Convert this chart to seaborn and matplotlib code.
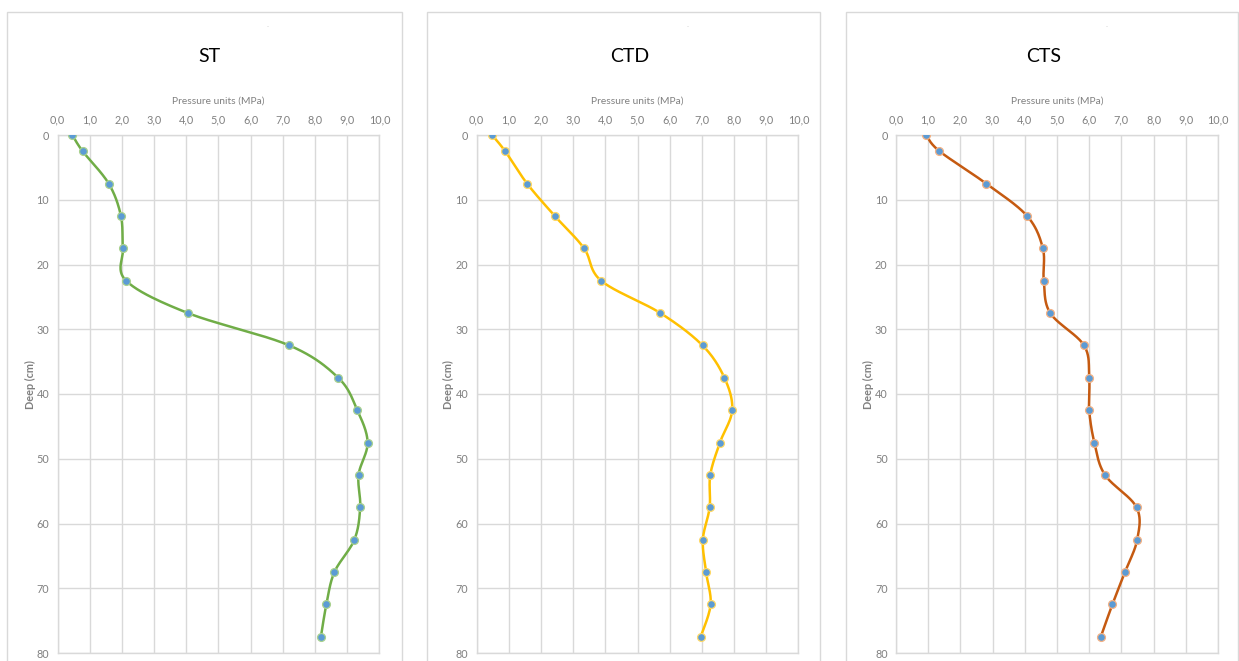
import numpy as np
import pandas as pd
import seaborn as sns
import matplotlib
matplotlib.use("Agg")
import matplotlib.pyplot as plt
from matplotlib.patches import Rectangle
from matplotlib.ticker import FuncFormatter

# ---- data ----
depth = [0, 2.5, 7.5, 12.5, 17.5, 22.5, 27.5, 32.5, 37.5, 42.5, 47.5,
         52.5, 57.5, 62.5, 67.5, 72.5, 77.5]
st = [0.46, 0.78, 1.59, 1.97, 2.03, 2.13, 4.05, 7.20, 8.72, 9.31, 9.63,
      9.35, 9.40, 9.22, 8.60, 8.35, 8.18]
ctd = [0.48, 0.89, 1.57, 2.43, 3.34, 3.87, 5.71, 7.02, 7.70, 7.94, 7.56,
       7.26, 7.24, 7.03, 7.13, 7.27, 6.96]
cts = [0.93, 1.35, 2.80, 4.07, 4.56, 4.59, 4.79, 5.84, 6.00, 6.00, 6.16,
       6.49, 7.47, 7.49, 7.11, 6.72, 6.36]
titles = ["ST", "CTD", "CTS"]
series = [st, ctd, cts]
line_colors = ["#70AD47", "#FFC000", "#C55A11"]
edge_colors = ["#A9D18E", "#FFD966", "#F4B183"]
x_ticks = list(range(0, 11))
y_ticks = list(range(0, 81, 10))
x_label = "Pressure units (MPa)"
y_label = "Deep (cm)"

W, H = 1239, 661


def smooth(xs, ys, steps=24):
    """Excel-style smoothed line: cubic Bezier segments through the points."""
    P = np.column_stack([xs, ys]).astype(float)
    n = len(P)
    out = [P[0]]
    t = np.linspace(0, 1, steps)[1:, None]
    for i in range(n - 1):
        p0 = P[i - 1] if i > 0 else P[i]
        p1, p2 = P[i], P[i + 1]
        p3 = P[i + 2] if i + 2 < n else P[i + 1]
        c1 = p1 + (p2 - p0) / 6.0
        c2 = p2 - (p3 - p1) / 6.0
        seg = ((1 - t) ** 3) * p1 + 3 * ((1 - t) ** 2) * t * c1 \
            + 3 * (1 - t) * (t ** 2) * c2 + (t ** 3) * p2
        out.extend(seg)
    return np.array(out)


sns.set_theme(style="white")
plt.rcParams["font.family"] = ["Lato", "DejaVu Sans"]

fig = plt.figure(figsize=(W / 100, H / 100), dpi=100)
fig.patch.set_facecolor("white")

frames = [(7, 402), (427, 820), (846, 1238)]
ax_left = [57.5, 476.5, 896]
ax_width = 322
ax_top, ax_bottom = 135, 653
title_x = [209, 630, 1044]
dash_x = [268, 688, 1107]

grey = "#808080"
grid_c = "#D9D9D9"

for i in range(3):
    fl, fr = frames[i]
    fig.add_artist(Rectangle((fl / W, -0.05), (fr - fl) / W, (H - 12) / H + 0.05,
                             transform=fig.transFigure, fill=False,
                             edgecolor=grid_c, lw=1.0))
    ax = fig.add_axes([ax_left[i] / W, 1 - ax_bottom / H,
                       ax_width / W, (ax_bottom - ax_top) / H])
    df = pd.DataFrame({"pressure": series[i], "depth": depth})
    curve = smooth(df["pressure"].values, df["depth"].values)
    sns.lineplot(x=curve[:, 0], y=curve[:, 1], sort=False, estimator=None,
                 color=line_colors[i], lw=1.8, ax=ax, zorder=2)
    sns.scatterplot(data=df, x="pressure", y="depth", s=32, color="#5B9BD5",
                    edgecolor=edge_colors[i], linewidth=0.9, ax=ax, zorder=3)
    ax.set_xlim(0, 10)
    ax.set_ylim(80, 0)
    ax.xaxis.tick_top()
    ax.xaxis.set_label_position("top")
    ax.set_xticks(x_ticks)
    ax.set_yticks(y_ticks)
    ax.xaxis.set_major_formatter(FuncFormatter(lambda v, p: f"{v:.1f}".replace(".", ",")))
    ax.grid(True, color=grid_c, lw=1.0)
    for sp in ax.spines.values():
        sp.set_color(grid_c)
        sp.set_linewidth(1.0)
    ax.tick_params(axis="both", length=0, labelsize=7.8, colors=grey)
    ax.tick_params(axis="x", pad=7)
    ax.tick_params(axis="y", pad=6)
    ax.set_xlabel(x_label, fontsize=7.4, color=grey, labelpad=8)
    ax.set_ylabel(y_label, fontsize=7.8, fontweight="bold", color=grey)
    ax.yaxis.set_label_coords(-22 / ax_width, (ax_bottom - 385) / (ax_bottom - ax_top))
    fig.text(title_x[i] / W, 1 - 57 / H, titles[i], fontsize=14,
             ha="center", va="center", color="black")
    fig.text(dash_x[i] / W, 1 - 27 / H, "-", fontsize=4, ha="center",
             va="center", color="#BFBFBF")

fig.savefig("out.png", dpi=100)
